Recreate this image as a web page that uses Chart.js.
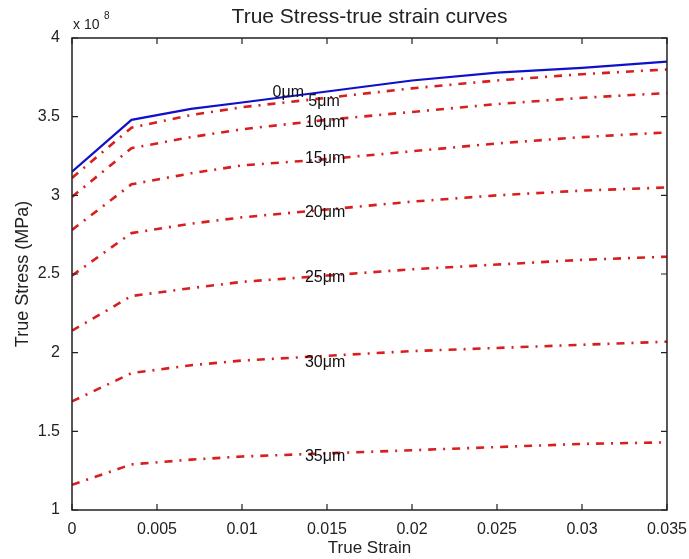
<!DOCTYPE html>
<html>
<head>
<meta charset="utf-8">
<script src="https://cdn.jsdelivr.net/npm/chart.js@4"></script>
<style>
  html, body { margin: 0; padding: 0; background: #fff; }
  #wrap { width: 689px; height: 559px; }
</style>
</head>
<body>
<div id="wrap"><canvas id="myChart" width="689" height="559"></canvas></div>
<script>
// strain values (x) shared by every curve
var strain = [0, 0.0035, 0.007, 0.01, 0.015, 0.02, 0.025, 0.03, 0.035];

// true stress, in units of 1e8 (axis shows "x 10^8")
var s0 = [3.15, 3.48, 3.55, 3.59, 3.66, 3.73, 3.78, 3.81, 3.85];
var s5 = [3.11, 3.43, 3.51, 3.56, 3.62, 3.68, 3.73, 3.77, 3.80];
var s10 = [2.99, 3.30, 3.37, 3.42, 3.48, 3.53, 3.58, 3.62, 3.65];
var s15 = [2.78, 3.07, 3.14, 3.19, 3.23, 3.28, 3.33, 3.37, 3.40];
var s20 = [2.49, 2.76, 2.82, 2.86, 2.91, 2.96, 3.00, 3.03, 3.05];
var s25 = [2.14, 2.36, 2.41, 2.45, 2.49, 2.53, 2.56, 2.59, 2.61];
var s30 = [1.69, 1.87, 1.92, 1.95, 1.98, 2.01, 2.03, 2.05, 2.07];
var s35 = [1.16, 1.29, 1.32, 1.34, 1.36, 1.38, 1.40, 1.42, 1.43];

var curveNames = ["0μm", "5μm", "10μm", "15μm", "20μm", "25μm", "30μm", "35μm"];
var curves = [s0, s5, s10, s15, s20, s25, s30, s35];

// where the text labels sit (data coords)
var labelX = [0.0118, 0.0139, 0.0137, 0.0137, 0.0137, 0.0137, 0.0137, 0.0137];
var labelY = [3.65, 3.595, 3.465, 3.235, 2.89, 2.48, 1.94, 1.34];

var xTicks = [0, 0.005, 0.01, 0.015, 0.02, 0.025, 0.03, 0.035];
var yTicks = [1, 1.5, 2, 2.5, 3, 3.5, 4];

var FONT = "'Liberation Sans', Arial, sans-serif";

var datasets = [];
for (var i = curves.length - 1; i >= 0; i--) {
  var pts = [];
  for (var j = 0; j < strain.length; j++) {
    pts.push({ x: strain[j], y: curves[i][j] });
  }
  var isBase = i === 0;
  datasets.push({
    label: curveNames[i],
    data: pts,
    borderColor: isBase ? "#1010c8" : "#d81e1e",
    borderWidth: isBase ? 2.2 : 2.6,
    borderDash: isBase ? [] : [8, 7, 2, 7],
    pointRadius: 0,
    tension: 0,
    fill: false
  });
}

var decor = {
  id: "decor",
  afterDatasetsDraw: function (c) {
    var ctx = c.ctx;
    var xs = c.scales.x, ys = c.scales.y;
    var a = c.chartArea;
    ctx.save();
    // curve labels
    ctx.fillStyle = "#111";
    ctx.font = "16px " + FONT;
    ctx.textAlign = "left";
    ctx.textBaseline = "middle";
    for (var i = 0; i < curveNames.length; i++) {
      ctx.fillText(curveNames[i], xs.getPixelForValue(labelX[i]), ys.getPixelForValue(labelY[i]));
    }
    // box
    ctx.strokeStyle = "#222";
    ctx.lineWidth = 1.5;
    ctx.strokeRect(a.left, a.top, a.right - a.left, a.bottom - a.top);
    // inward ticks on all sides
    ctx.lineWidth = 1.2;
    ctx.beginPath();
    xTicks.forEach(function (v) {
      var p = xs.getPixelForValue(v);
      ctx.moveTo(p, a.bottom); ctx.lineTo(p, a.bottom - 6);
      ctx.moveTo(p, a.top); ctx.lineTo(p, a.top + 6);
    });
    yTicks.forEach(function (v) {
      var p = ys.getPixelForValue(v);
      ctx.moveTo(a.left, p); ctx.lineTo(a.left + 6, p);
      ctx.moveTo(a.right, p); ctx.lineTo(a.right - 6, p);
    });
    ctx.stroke();
    // title
    ctx.fillStyle = "#222";
    ctx.font = "21px " + FONT;
    ctx.textAlign = "center";
    ctx.textBaseline = "middle";
    ctx.fillText("True Stress-true strain curves", (a.left + a.right) / 2, 17);
    // exponent
    ctx.font = "14px " + FONT;
    ctx.textAlign = "left";
    ctx.textBaseline = "alphabetic";
    ctx.fillText("x 10", a.left + 1, 29);
    ctx.font = "10px " + FONT;
    ctx.fillText("8", a.left + 32, 19);
    ctx.restore();
  }
};

var ctx = document.getElementById("myChart").getContext("2d");
var chart = new Chart(ctx, {
  type: "line",
  data: { datasets: datasets },
  options: {
    responsive: false,
    animation: false,
    layout: { padding: { top: 38, right: 21, left: 0, bottom: 0 } },
    plugins: {
      legend: { display: false },
      tooltip: { enabled: false }
    },
    scales: {
      x: {
        type: "linear",
        min: 0,
        max: 0.035,
        afterBuildTicks: function (s) { s.ticks = xTicks.map(function (v) { return { value: v }; }); },
        afterFit: function (s) { s.height = 49; },
        grid: { display: false },
        border: { display: false },
        ticks: {
          color: "#222",
          font: { family: FONT, size: 16 },
          padding: 2,
          maxRotation: 0,
          callback: function (v) { return String(Number(v.toFixed(3))); }
        },
        title: {
          display: true,
          text: "True Strain",
          color: "#222",
          font: { family: FONT, size: 17 },
          padding: { top: 0, bottom: 0 }
        }
      },
      y: {
        type: "linear",
        min: 1,
        max: 4,
        afterBuildTicks: function (s) { s.ticks = yTicks.map(function (v) { return { value: v }; }); },
        afterFit: function (s) { s.width = 72; },
        grid: { display: false },
        border: { display: false },
        ticks: {
          color: "#222",
          font: { family: FONT, size: 16 },
          padding: 4,
          callback: function (v) { return String(v); }
        },
        title: {
          display: true,
          text: "True Stress (MPa)",
          color: "#222",
          font: { family: FONT, size: 18 },
          padding: { top: 12, bottom: 0 }
        }
      }
    }
  },
  plugins: [decor]
});
</script>
</body>
</html>
